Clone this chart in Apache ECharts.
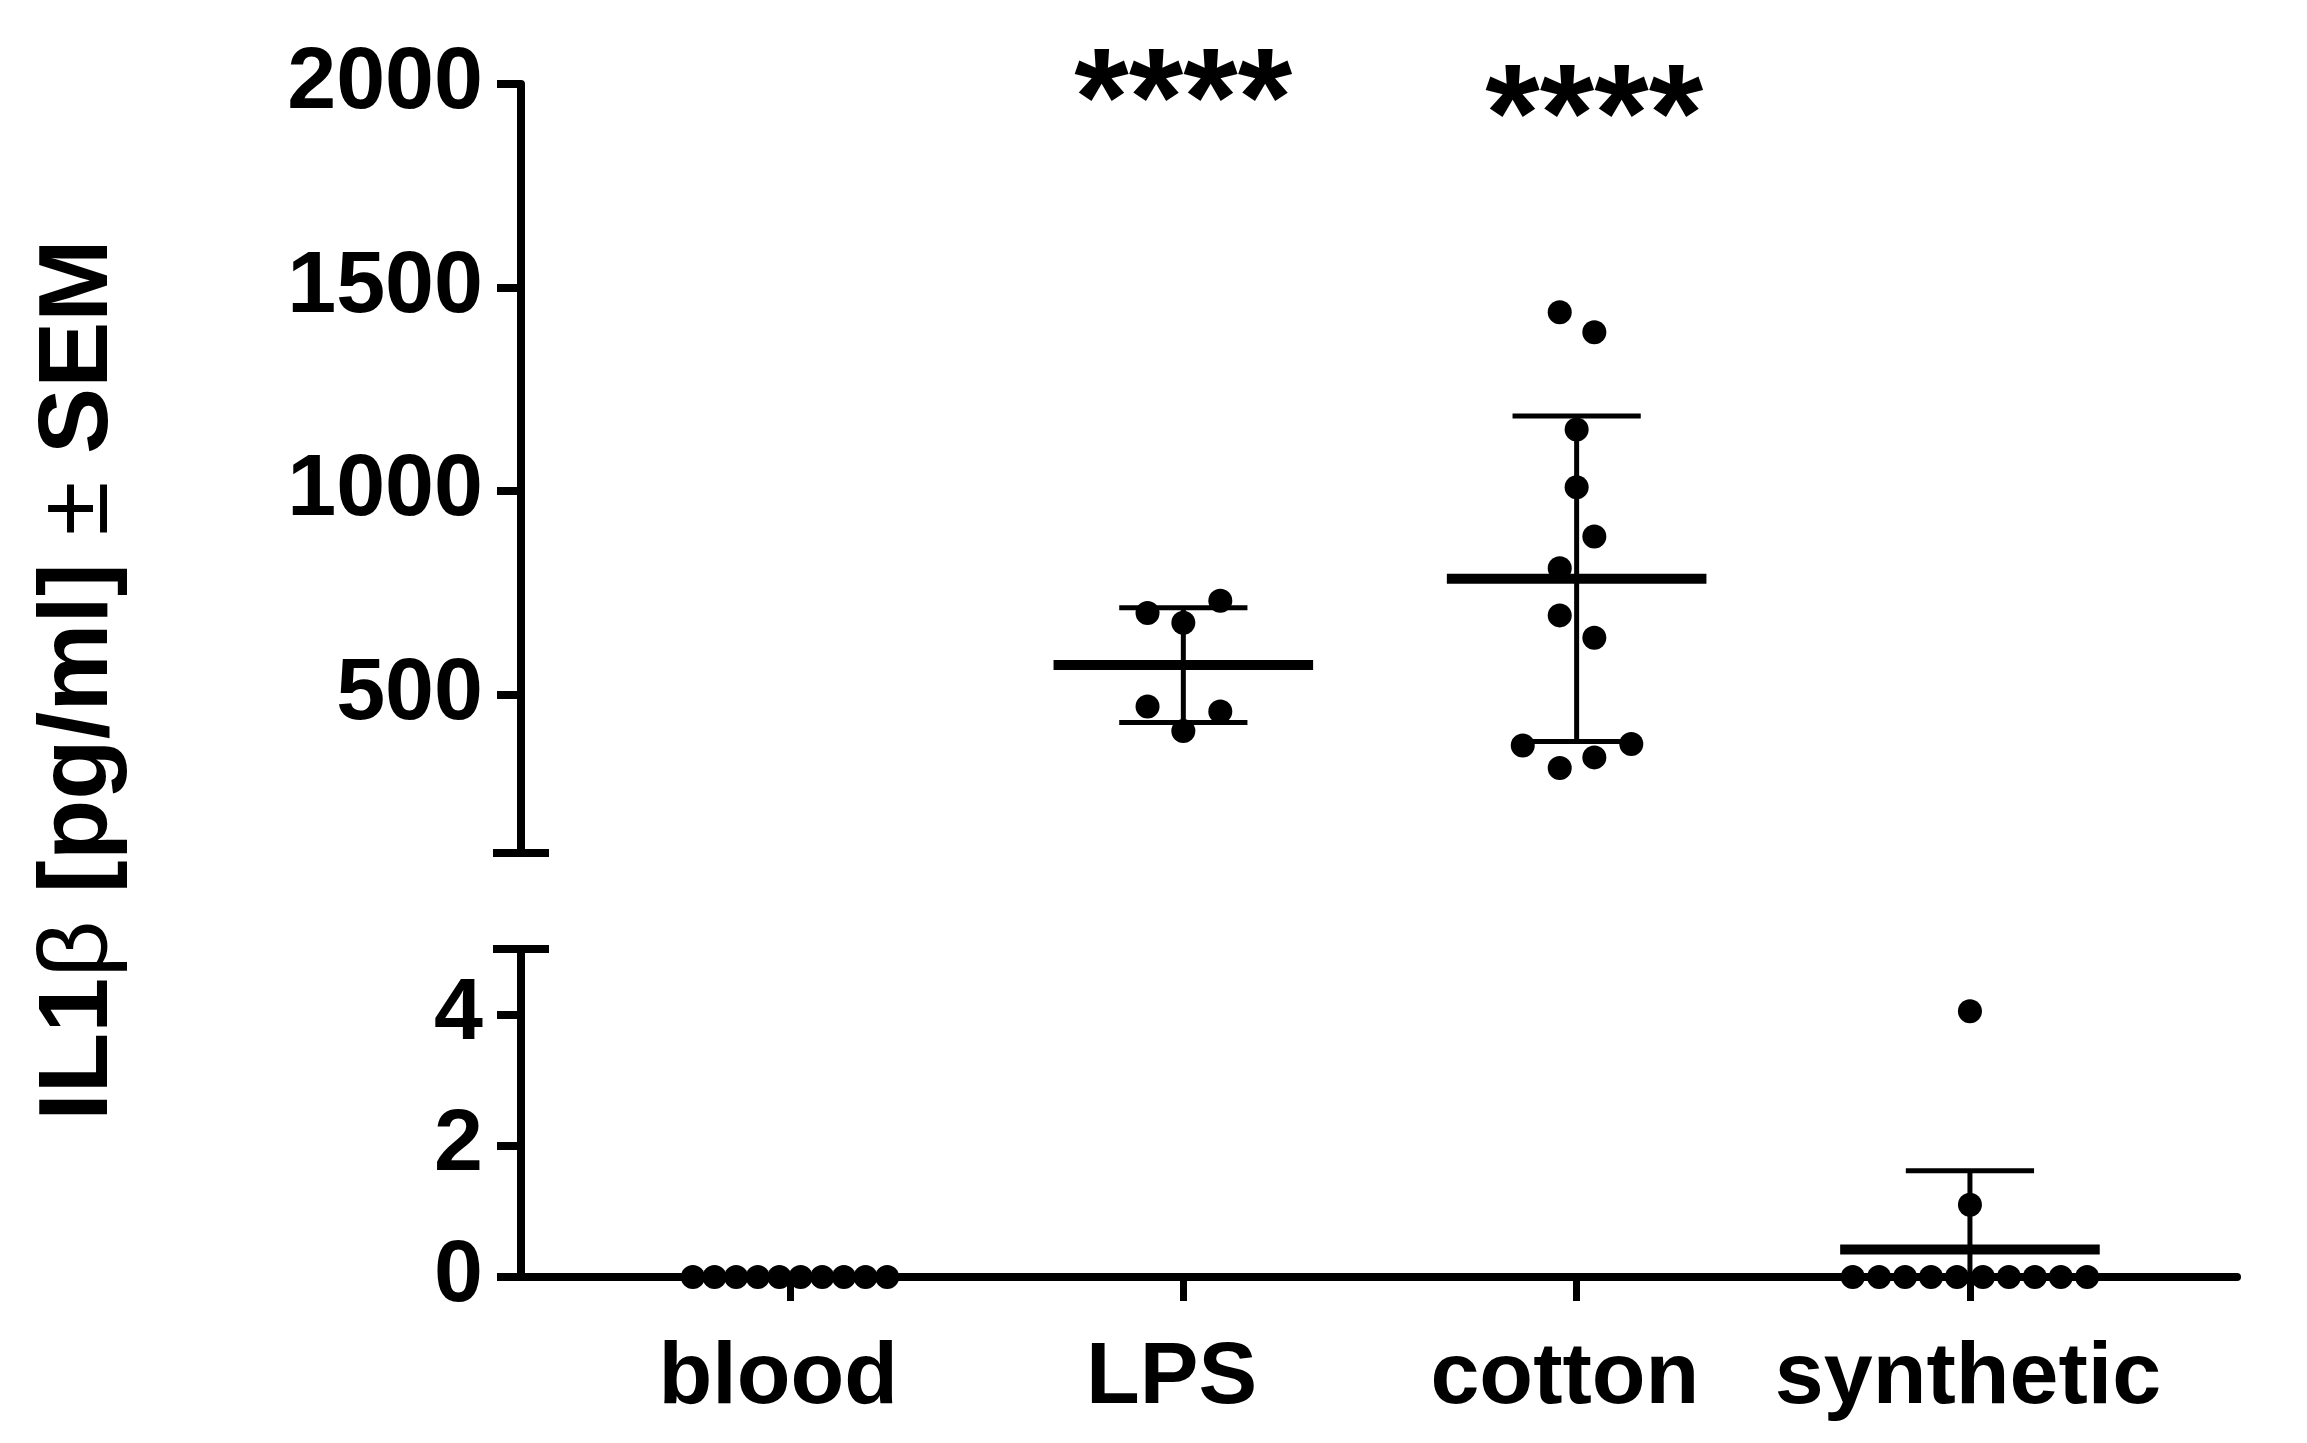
<!DOCTYPE html>
<html>
<head>
<meta charset="utf-8">
<script src="https://cdn.jsdelivr.net/npm/echarts@6/dist/echarts.min.js"></script>
<style>
html,body{margin:0;padding:0;background:#fff;}
#chart{width:2307px;height:1443px;}
</style>
</head>
<body>
<div id="chart"></div>
<script>
// ---------------- DATA ----------------
const categories = ['blood', 'LPS', 'cotton', 'synthetic'];
const upperTickLabels = [500, 1000, 1500, 2000];
const lowerTickLabels = [0, 2, 4];

const bloodValues = [0, 0, 0, 0, 0, 0, 0, 0, 0, 0];
const bloodJitter = [-0.247, -0.192, -0.137, -0.082, -0.027, 0.027, 0.082, 0.137, 0.192, 0.247];

const lpsValues = [700, 676, 730, 470, 410, 458];
const lpsJitter = [-0.091, 0, 0.094, -0.091, 0, 0.094];

const cottonValues = [1439, 1390, 1151, 1009, 888, 810, 694, 639, 374, 378, 345, 319];
const cottonJitter = [-0.043, 0.045, 0, 0, 0.045, -0.043, -0.043, 0.045, -0.137, 0.139, 0.045, -0.043];

const syntheticValues = [0, 0, 0, 0, 0, 0, 0, 0, 0, 0, 1.1, 4.05];
const syntheticJitter = [-0.298, -0.231, -0.165, -0.099, -0.033, 0.033, 0.099, 0.165, 0.231, 0.298, 0, 0];

const groupMeans = [0, 572, 784, 0.42];
const groupSEM = [0, 141, 400, 1.2];

const sigLabels = ['', '****', '****', ''];
const sigHeights = [null, 2030, 1992, null];
const sigShift = [0, 0, 0.045, 0];

// axis ranges
const upperMin = 110, upperMax = 2000;
const lowerMin = 0, lowerMax = 5;
const xMin = 0.316, xMax = 4.679;
const labelShift = [-0.03, -0.03, -0.03, -0.005];

// ---------------- HELPERS ----------------
function pts(values, jitter, catIndex) {
  return values.map((v, i) => [catIndex + 1 + jitter[i], v]);
}

const FONT = 'Liberation Sans, Arial, sans-serif';
const BLACK = '#000';

function errRender(params, api) {
  const x = api.value(0), m = api.value(1), s = api.value(2);
  const lo = Math.max(m - s, api.value(3)), hi = m + s;
  const mL = api.coord([x - 0.33, m]), mR = api.coord([x + 0.33, m]);
  const top = api.coord([x, hi]), bot = api.coord([x, lo]);
  const cL = api.coord([x - 0.163, hi]), cR = api.coord([x + 0.163, hi]);
  const bL = api.coord([x - 0.163, lo]), bR = api.coord([x + 0.163, lo]);
  const children = [
    {type: 'line', shape: {x1: top[0], y1: top[1], x2: bot[0], y2: bot[1]}, style: {stroke: BLACK, lineWidth: 5}},
    {type: 'line', shape: {x1: cL[0], y1: cL[1], x2: cR[0], y2: cR[1]}, style: {stroke: BLACK, lineWidth: 5}},
    {type: 'line', shape: {x1: mL[0], y1: mL[1], x2: mR[0], y2: mR[1]}, style: {stroke: BLACK, lineWidth: 10}}
  ];
  if (m - s > api.value(3)) {
    children.push({type: 'line', shape: {x1: bL[0], y1: bL[1], x2: bR[0], y2: bR[1]}, style: {stroke: BLACK, lineWidth: 5}});
  }
  return {type: 'group', children: children};
}

function capRender(params, api) {
  const p = api.coord([api.value(0), api.value(1)]);
  return {type: 'line', shape: {x1: p[0] - 28, y1: p[1], x2: p[0] + 28, y2: p[1]}, style: {stroke: BLACK, lineWidth: 8}};
}

// groups whose mean/SEM bars are drawn in each panel (blood's mean and SEM are 0: nothing visible)
const upperGroups = [1, 2];
const lowerGroups = [3];

const chart = echarts.init(document.getElementById('chart'), null, {renderer: 'canvas'});

const labelStyle = {color: BLACK, fontFamily: FONT, fontWeight: 'bold', fontSize: 88};

const option = {
  animation: false,
  backgroundColor: '#fff',
  grid: [
    {left: 521, width: 1716, top: 84, height: 769},
    {left: 521, width: 1716, top: 949, height: 328}
  ],
  xAxis: [
    {gridIndex: 0, type: 'value', min: xMin, max: xMax, show: false},
    {
      gridIndex: 1, type: 'value', min: xMin, max: xMax,
      splitLine: {show: false},
      axisLine: {show: true, lineStyle: {color: BLACK, width: 8}},
      axisTick: {show: true, customValues: [1, 2, 3, 4], length: 24, lineStyle: {color: BLACK, width: 7}},
      axisLabel: Object.assign({
        customValues: categories.map((c, i) => i + 1 + labelShift[i]), margin: 58,
        formatter: v => categories[Math.round(v) - 1]
      }, labelStyle)
    }
  ],
  yAxis: [
    {
      gridIndex: 0, type: 'value', min: upperMin, max: upperMax,
      splitLine: {show: false},
      axisLine: {show: true, lineStyle: {color: BLACK, width: 8}},
      axisTick: {show: true, customValues: upperTickLabels, length: 24, lineStyle: {color: BLACK, width: 8}},
      axisLabel: Object.assign({customValues: upperTickLabels, margin: 38, formatter: v => String(v)}, labelStyle)
    },
    {
      gridIndex: 1, type: 'value', min: lowerMin, max: lowerMax,
      splitLine: {show: false},
      axisLine: {show: true, lineStyle: {color: BLACK, width: 8}},
      axisTick: {show: true, customValues: lowerTickLabels, length: 24, lineStyle: {color: BLACK, width: 8}},
      axisLabel: Object.assign({customValues: lowerTickLabels, margin: 38, formatter: v => String(v)}, labelStyle)
    }
  ],
  graphic: [{
    type: 'text',
    x: 80, y: 680,
    rotation: Math.PI / 2,
    style: {
      text: '{b|IL1}{n|β}{b| [pg/ml] }{n|±}{b| SEM}',
      align: 'center', verticalAlign: 'middle',
      rich: {
        b: {fontFamily: FONT, fontWeight: 'bold', fontSize: 99, fill: BLACK},
        n: {fontFamily: FONT, fontWeight: 'normal', fontSize: 99, fill: BLACK}
      }
    }
  }],
  series: [
    {
      type: 'custom', xAxisIndex: 0, yAxisIndex: 0, renderItem: errRender, clip: true, z: 3,
      data: upperGroups.map(i => [i + 1, groupMeans[i], groupSEM[i], upperMin])
    },
    {
      type: 'custom', xAxisIndex: 1, yAxisIndex: 1, renderItem: errRender, clip: false, z: 3,
      data: lowerGroups.map(i => [i + 1, groupMeans[i], groupSEM[i], lowerMin])
    },
    {type: 'custom', xAxisIndex: 0, yAxisIndex: 0, renderItem: capRender, clip: false, z: 5, data: [[xMin, upperMin]]},
    {type: 'custom', xAxisIndex: 1, yAxisIndex: 1, renderItem: capRender, clip: false, z: 5, data: [[xMin, lowerMax]]},
    {type: 'scatter', xAxisIndex: 0, yAxisIndex: 0, symbolSize: 24, itemStyle: {color: BLACK, opacity: 1}, z: 4,
      data: pts(lpsValues, lpsJitter, 1).concat(pts(cottonValues, cottonJitter, 2))},
    {type: 'scatter', xAxisIndex: 1, yAxisIndex: 1, symbolSize: 24, itemStyle: {color: BLACK, opacity: 1}, z: 4, clip: false,
      data: pts(bloodValues, bloodJitter, 0).concat(pts(syntheticValues, syntheticJitter, 3))},
    {
      type: 'scatter', xAxisIndex: 0, yAxisIndex: 0, symbolSize: 0, clip: false, z: 6,
      itemStyle: {color: BLACK, opacity: 1},
      data: sigLabels.map((s, i) => s ? {value: [i + 1 + sigShift[i], sigHeights[i]], name: s} : null).filter(Boolean),
      label: {
        show: true, position: 'inside', formatter: p => p.name,
        fontFamily: FONT, fontWeight: 'bold', fontSize: 140, color: BLACK, opacity: 1, offset: [0, 35]
      }
    }
  ]
};
chart.setOption(option);
</script>
</body>
</html>
